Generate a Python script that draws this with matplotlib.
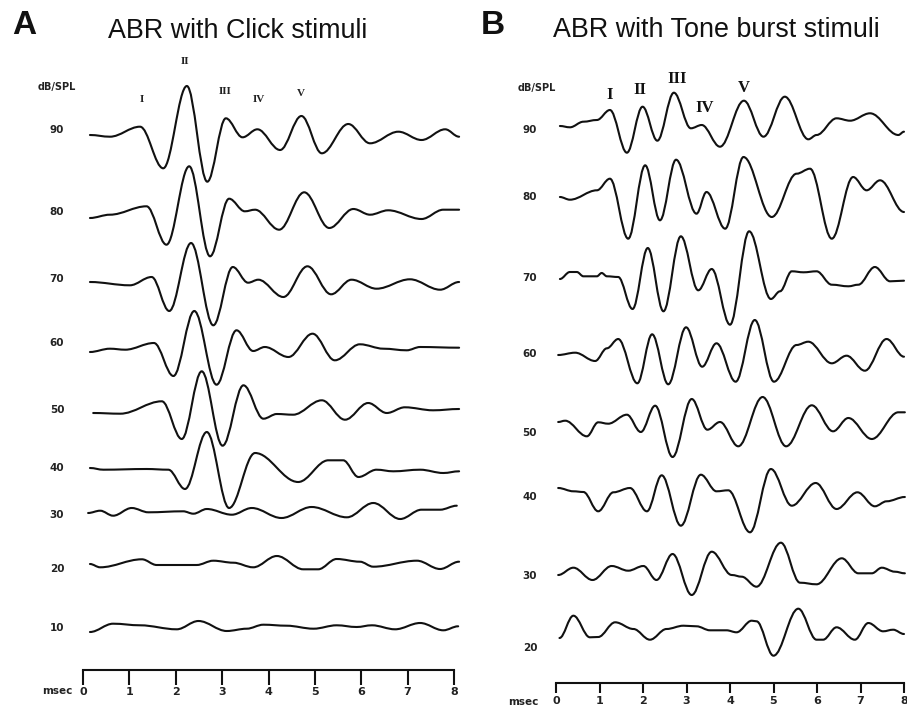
import matplotlib
matplotlib.use("Agg")
import matplotlib.pyplot as plt
from matplotlib.path import Path
from matplotlib.patches import PathPatch

# ---- data: ABR waveforms, (time in ms, amplitude in arbitrary units) at the turning points ----
# Click stimuli
click_levels = [90, 80, 70, 60, 50, 40, 30, 20, 10]

click_90_ms = [0.15, 0.58, 1.23, 1.73, 2.24, 2.68, 3.08, 3.44, 3.76, 4.25, 4.71, 5.15, 5.72, 6.19, 6.80, 7.30, 7.81, 8.11]
click_90_amp = [0, -1.7, 8.3, -33.3, 49, -46.7, 16.7, -2.3, 5.7, -15, 19, -18.3, 11, -8.3, 3.3, -5, 5.7, -1.7]

click_80_ms = [0.15, 0.58, 1.37, 1.80, 2.29, 2.74, 3.15, 3.49, 3.71, 4.23, 4.77, 5.31, 5.83, 6.19, 6.58, 7.30, 7.77, 8.11]
click_80_amp = [0, 3.3, 11.7, -26.7, 51.7, -38.3, 19.3, 6.7, 8.3, -11.7, 25.7, -10, 9, 3.3, 7.7, -1, 8.3, 8.3]

click_70_ms = [0.15, 1.01, 1.48, 1.86, 2.33, 2.81, 3.23, 3.56, 3.78, 4.32, 4.84, 5.35, 5.79, 6.33, 7.05, 7.70, 8.11]
click_70_amp = [0, -3.3, 5, -29, 39, -43.3, 15, -0.7, 2.3, -15, 15.7, -12.3, 2.3, -6.7, 2.7, -7.7, 0]

click_60_ms = [0.15, 0.58, 0.91, 1.53, 1.95, 2.40, 2.88, 3.31, 3.67, 3.92, 4.43, 4.95, 5.43, 5.97, 6.48, 6.98, 7.27, 8.11]
click_60_amp = [0, 3.3, 2.3, 9, -24, 41, -32.7, 21.7, 1, 5, -5, 18.3, -8.3, 7.7, 3.3, 1.7, 5, 4.3]

click_50_ms = [0.22, 0.80, 1.70, 2.13, 2.56, 3.01, 3.46, 3.89, 4.18, 4.53, 5.15, 5.65, 6.15, 6.55, 6.94, 7.55, 8.11]
click_50_amp = [0, -0.7, 11.7, -26, 41.7, -32.7, 27.7, -5.7, -1, -1.7, 12.7, -6.7, 10, 0, 5.7, 2.7, 4]

click_40_ms = [0.15, 0.44, 1.37, 1.84, 2.20, 2.67, 3.15, 3.71, 4.64, 5.29, 5.61, 5.94, 6.33, 6.69, 7.27, 7.77, 8.11]
click_40_amp = [0, -1.7, -1, -1.7, -21, 36, -40, 15, -14, 7.7, 7.7, -9, -1.7, -3.3, -1.7, -5, -3.3]

click_30_ms = [0.11, 0.37, 0.65, 1.05, 1.41, 2.16, 2.38, 2.67, 3.21, 3.64, 4.28, 4.93, 5.69, 6.26, 6.84, 7.30, 7.70, 8.06]
click_30_amp = [0, 2.3, -2.7, 5, 0.7, 1.7, -0.7, 4, -1.7, 5, -5, 6, -4.3, 10, -6, 3.3, 3.3, 7.3]

click_20_ms = [0.15, 0.37, 1.27, 1.59, 2.45, 2.81, 3.24, 3.67, 4.18, 4.75, 5.07, 5.47, 5.97, 6.26, 7.20, 7.70, 8.11]
click_20_amp = [0, -3.3, 4.7, -1, -1, 3.3, 1.3, -3.3, 8, -5.3, -5.3, 5, 2.3, -2.7, 3.3, -5, 2.3]

click_10_ms = [0.15, 0.65, 1.23, 2.02, 2.49, 3.10, 3.53, 3.89, 4.39, 4.97, 5.47, 5.90, 6.23, 6.73, 7.27, 7.77, 8.09]
click_10_amp = [0, 8.3, 6.7, 2.7, 11, 1, 3.3, 7.3, 6.3, 3.3, 6.7, 5, 6.7, 2.7, 9, 1.7, 5.7]

# Tone burst stimuli
tone_levels = [90, 80, 70, 60, 50, 40, 30, 20]

tone_90_ms = [0.09, 0.32, 0.63, 0.94, 1.24, 1.63, 1.99, 2.33, 2.71, 3.10, 3.35, 3.77, 4.32, 4.77, 5.26, 5.80, 5.99, 6.45, 6.76, 7.22, 7.87, 8.00]
tone_90_amp = [0, -1.3, 4.3, 6, 16, -26.7, 19.3, -14.7, 33.3, -2.3, 1, -20.7, 25.3, -10.7, 29.3, -13.3, -9, 7.7, 5.3, 12.7, -9, -5.7]

tone_80_ms = [0.09, 0.32, 0.94, 1.24, 1.66, 2.05, 2.39, 2.76, 3.23, 3.46, 3.89, 4.31, 4.96, 5.53, 5.84, 6.34, 6.83, 7.14, 7.45, 8.00]
tone_80_amp = [0, -2.7, 6.7, 18.3, -41.7, 31.7, -23.3, 37.3, -16.7, 5, -31.7, 40, -20, 23.3, 28.3, -41.7, 20, 6.7, 16.7, -15]

tone_70_ms = [0.09, 0.32, 0.48, 0.63, 0.94, 1.05, 1.17, 1.43, 1.76, 2.11, 2.47, 2.87, 3.27, 3.58, 4.00, 4.44, 4.94, 5.15, 5.42, 5.69, 5.99, 6.34, 6.72, 6.95, 7.33, 7.68, 8.00]
tone_70_amp = [0, 7, 7, 2.7, 2.7, 6, 2.7, 2, -30, 31, -32.3, 42.7, -11.3, 10, -45.7, 47.7, -20, -12.3, 7.7, 6.7, 7.7, -5.7, -7.3, -5.7, 12, -2.3, -1.7]

tone_60_ms = [0.05, 0.44, 0.90, 1.17, 1.43, 1.87, 2.21, 2.58, 2.99, 3.36, 3.69, 4.13, 4.57, 5.01, 5.53, 5.80, 6.34, 6.68, 7.10, 7.60, 8.00]
tone_60_amp = [0, 2.3, -6, 6.7, 16, -28.3, 20.7, -29.3, 27.7, -11.7, 11.7, -26.7, 35, -26.7, 10, 13.3, -8.3, -0.7, -15.7, 16, -1.7]

tone_50_ms = [0.05, 0.21, 0.71, 0.97, 1.20, 1.63, 1.95, 2.28, 2.68, 3.12, 3.48, 3.77, 4.19, 4.75, 5.29, 5.88, 6.37, 6.72, 7.26, 7.87, 8.02]
tone_50_amp = [0, 1.3, -14.3, -0.3, -1.7, 7.3, -10, 16.3, -35, 23, -7.7, 0, -24.3, 25, -24.3, 16.7, -9.3, 4, -17, 9.7, 9.7]

tone_40_ms = [0.05, 0.40, 0.63, 0.97, 1.32, 1.70, 2.09, 2.43, 2.87, 3.33, 3.69, 3.96, 4.46, 4.94, 5.42, 5.97, 6.45, 6.93, 7.33, 7.60, 8.02]
tone_40_amp = [0, -3.3, -4, -23.3, -4.3, 0, -23.3, 12.7, -37.7, 13.3, -3.3, -2.3, -44.3, 19, -17.7, 5, -21, -4.3, -18.3, -13.3, -9]

tone_30_ms = [0.05, 0.40, 0.84, 1.28, 1.66, 2.01, 2.31, 2.68, 3.12, 3.58, 4.04, 4.27, 4.61, 5.17, 5.61, 5.99, 6.57, 6.95, 7.26, 7.49, 7.79, 8.02]
tone_30_amp = [0, 7.3, -5, 9, 4.3, 9, -5, 21, -20, 23.3, 0, -1.7, -11.7, 32.3, -7.7, -9.3, 16.7, 1.7, 1.7, 7.3, 3.3, 1.7]

tone_20_ms = [0.08, 0.40, 0.78, 0.97, 1.36, 1.78, 2.16, 2.54, 2.93, 3.23, 3.54, 3.92, 4.15, 4.50, 4.61, 5.00, 5.57, 5.99, 6.14, 6.45, 6.87, 7.18, 7.52, 7.75, 8.00]
tone_20_amp = [0, 22.3, 0.7, 1, 15.7, 9, -1.7, 9, 12.3, 11.7, 7.7, 7.7, 5.7, 17.3, 16.7, -17.7, 29.3, -1.7, -1.7, 10.7, -1.7, 15, 6.7, 8.3, 4]

ms_ticks = [0, 1, 2, 3, 4, 5, 6, 7, 8]
click_peaks = ["I", "II", "III", "IV", "V"]
tone_peaks = ["I", "II", "III", "IV", "V"]

click_traces = [click_90_ms, click_90_amp, click_80_ms, click_80_amp, click_70_ms, click_70_amp,
                click_60_ms, click_60_amp, click_50_ms, click_50_amp, click_40_ms, click_40_amp,
                click_30_ms, click_30_amp, click_20_ms, click_20_amp, click_10_ms, click_10_amp]
tone_traces = [tone_90_ms, tone_90_amp, tone_80_ms, tone_80_amp, tone_70_ms, tone_70_amp,
               tone_60_ms, tone_60_amp, tone_50_ms, tone_50_amp, tone_40_ms, tone_40_amp,
               tone_30_ms, tone_30_amp, tone_20_ms, tone_20_amp]

# ---- layout (vertical positions in figure pixels, counted from the top) ----
W, H = 907, 709
click_base = [135, 218, 282, 352, 413, 468, 513, 564, 632]
click_label_y = [130, 212, 279, 343, 410, 468, 515, 569, 628]
tone_base = [126, 197, 279, 355, 422, 488, 575, 638]
tone_label_y = [130, 197, 278, 354, 433, 497, 576, 648]

LINE = "#111111"


def smooth_path(t, y, k=0.36):
    # cubic segments with flat tangents at every turning point
    verts = [(t[0], y[0])]
    codes = [Path.MOVETO]
    for i in range(len(t) - 1):
        dt = t[i + 1] - t[i]
        verts += [(t[i] + k * dt, y[i]), (t[i + 1] - k * dt, y[i + 1]), (t[i + 1], y[i + 1])]
        codes += [Path.CURVE4] * 3
    return Path(verts, codes)


fig = plt.figure(figsize=(W / 100, H / 100), dpi=100)


def panel(x0, x1, axis_y, tick_len, traces, bases, levels, label_y, label_x):
    ax = fig.add_axes([x0 / W, 0, (x1 - x0) / W, 1])
    ax.set_xlim(0, 8)
    ax.set_ylim(-H, 0)
    for s in ("left", "right", "top"):
        ax.spines[s].set_visible(False)
    ax.spines["bottom"].set_position(("data", -axis_y))
    ax.spines["bottom"].set_linewidth(1.5)
    ax.spines["bottom"].set_color(LINE)
    ax.set_yticks([])
    ax.set_xticks(ms_ticks)
    ax.set_xticklabels([str(v) for v in ms_ticks], fontsize=8, fontweight="bold",
                       family="DejaVu Sans", color="#222222")
    ax.tick_params(axis="x", direction="out", length=tick_len, width=1.5, color=LINE, pad=2)
    ax.patch.set_alpha(0)
    for i, base in enumerate(bases):
        t = traces[2 * i]
        y = [a - base for a in traces[2 * i + 1]]
        ax.add_patch(PathPatch(smooth_path(t, y), fill=False, lw=1.5, ec=LINE,
                               capstyle="round", joinstyle="round", clip_on=False))
        ax.text(label_x, -label_y[i], str(levels[i]), ha="center", va="center",
                fontsize=7.5, fontweight="bold", color="#222222", clip_on=False)
    return ax


axA = panel(83, 454, 670, 10.5, click_traces, click_base, click_levels, click_label_y, -0.56)
axB = panel(556, 904, 683, 7.5, tone_traces, tone_base, tone_levels, tone_label_y, -0.6)

# axis names and headers
axA.text(-0.56, -87, "dB/SPL", ha="center", va="center", fontsize=7, fontweight="bold", color="#222222")
axB.text(-0.43, -88, "dB/SPL", ha="center", va="center", fontsize=7, fontweight="bold", color="#222222")
axA.text(-0.56, -691, "msec", ha="center", va="center", fontsize=7.5, fontweight="bold", color="#222222")
axB.text(-0.75, -702, "msec", ha="center", va="center", fontsize=7.5, fontweight="bold", color="#222222")

# wave labels
click_peak_xy = [(1.27, 100), (2.20, 61), (3.06, 91), (3.80, 100), (4.70, 93)]
for name, (t, yp) in zip(click_peaks, click_peak_xy):
    axA.text(t, -yp, name, ha="center", va="center", fontsize=8, fontweight="bold",
             family="Liberation Serif", color="#222222")
tone_peak_xy = [(1.23, 95), (1.93, 90), (2.79, 79), (3.42, 108), (4.32, 88)]
for name, (t, yp) in zip(tone_peaks, tone_peak_xy):
    axB.text(t, -yp, name, ha="center", va="center", fontsize=12, fontweight="bold",
             family="Liberation Serif", color="#111111")

fig.text(24 / W, 1 - 26 / H, "A", ha="center", va="center", fontsize=24, fontweight="bold",
         family="Liberation Sans", color="#111111")
fig.text(237.5 / W, 1 - 38 / H, "ABR with Click stimuli", ha="center", va="baseline",
         fontsize=19.4, family="Liberation Sans", color="#111111")
fig.text(492.5 / W, 1 - 26 / H, "B", ha="center", va="center", fontsize=24, fontweight="bold",
         family="Liberation Sans", color="#111111")
fig.text(716.7 / W, 1 - 37 / H, "ABR with Tone burst stimuli", ha="center", va="baseline",
         fontsize=19.4, family="Liberation Sans", color="#111111")

fig.savefig("out.png", dpi=100)
